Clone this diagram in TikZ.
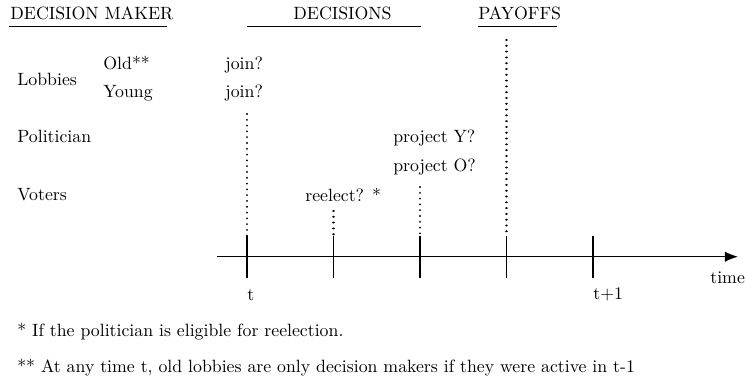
\documentclass[tikz,border=0pt]{standalone}
\usepackage{amsmath, amssymb}
\usepackage{tikz}
\usetikzlibrary{arrows.meta}

\begin{document}
\begin{tikzpicture}[x=0.571pt,y=0.571pt,yscale=-1,xscale=1,
  txt/.style={anchor=base west,inner sep=0pt,font=\fontsize{10.15}{12}\selectfont},
  dotline/.style={line width=1.2pt,dash pattern=on 0.01pt off 3.3pt,line cap=round},
  tickline/.style={line width=0.7pt},
  uline/.style={line width=0.7pt}]
%set diagram left start at 0, and has height of 379
\path (0,0) rectangle (745,379);

% Headings
\draw (10,19) node [txt] (dm) {DECISION MAKER};
\draw (293,19) node [txt] (dec) {DECISIONS};
\draw (478,19) node [txt] (pay) {PAYOFFS};
\coordinate (dmA) at (9,26.7);
\coordinate (dmB) at (167,26.7);
\coordinate (decA) at (247,26.7);
\coordinate (decB) at (421,26.7);
\coordinate (payA) at (478,26.7);
\coordinate (payB) at (557,26.7);
%Underlines
\draw [uline] (dmA) -- (dmB) ;
\draw [uline] (decA) -- (decB) ;
\draw [uline] (payA) -- (payB) ;

% Decision makers
\draw (17,85.6) node [txt] (lob) {Lobbies};
\draw (103,70) node [txt] (old) {Old**};
\draw (103,97) node [txt] (young) {Young};
\draw (17,142) node [txt] (pol) {Politician};
\draw (17,200) node [txt] (vot) {Voters};

% Decisions
\draw (225,70) node [txt] (joinO) {join?};
\draw (225,97) node [txt] (joinY) {join?};
\draw (393,142) node [txt] (projY) {project Y?};
\draw (393,172) node [txt] (projO) {project O?};
\draw (305,201) node [txt] (reel) {reelect? *};

% Time axis
\coordinate (axA) at (217,256.7);
\coordinate (axB) at (738,256.7);
\draw [line width=0.8pt,-{Latex[length=7.5pt,width=6pt]}] (axA) -- (axB) ;
\draw (710,283) node [txt] (time) {time};

% Ticks
\coordinate (tk1) at (247,236);   \coordinate (bt1) at (247,278);
\coordinate (tk2) at (333.5,236); \coordinate (bt2) at (333.5,278);
\coordinate (tk3) at (420,236);   \coordinate (bt3) at (420,278);
\coordinate (tk4) at (506.5,236); \coordinate (bt4) at (506.5,278);
\coordinate (tk5) at (593,236);   \coordinate (bt5) at (593,278);
\draw [tickline] (tk1) -- (bt1) ;
\draw [tickline] (tk2) -- (bt2) ;
\draw [tickline] (tk3) -- (bt3) ;
\draw [tickline] (tk4) -- (bt4) ;
\draw [tickline] (tk5) -- (bt5) ;

% Dotted guides
\coordinate (dt1) at (247,114);
\coordinate (dt2) at (333.5,211);
\coordinate (dt3) at (420,187);
\coordinate (dt4) at (506.5,40);
\draw [dotline] (dt1) -- (tk1) ;
\draw [dotline] (dt2) -- (tk2) ;
\draw [dotline] (dt3) -- (tk3) ;
\draw [dotline] (dt4) -- (tk4) ;

% Tick labels
\draw (247,300) node [txt] (lt) {t};
\draw (593,299) node [txt] (ltt) {t+1};

% Footnotes
\draw (17,337) node [txt] (fn1) {* If the politician is eligible for reelection.};
\draw (17,372) node [txt] (fn2) {** At any time t, old lobbies are only decision makers if they were active in t-1};

\end{tikzpicture}
\end{document}
